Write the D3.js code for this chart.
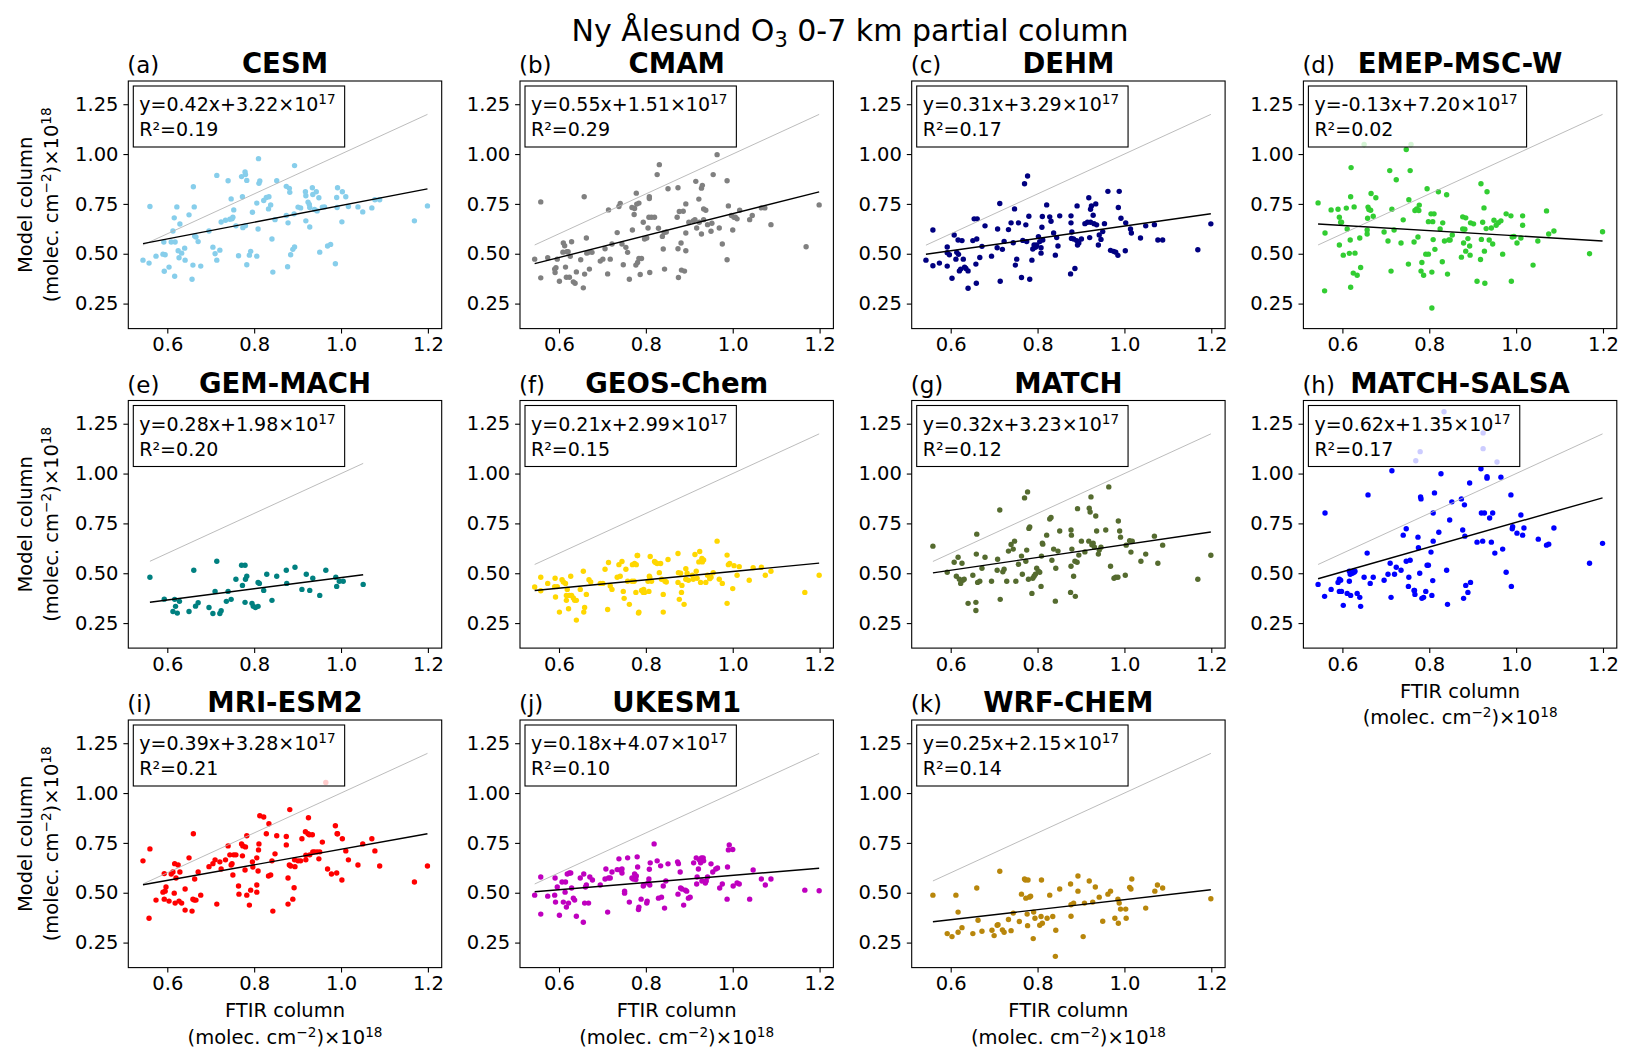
<!DOCTYPE html>
<html>
<head>
<meta charset="utf-8">
<script src="https://cdn.jsdelivr.net/npm/d3@7"></script>
<style>
  body { margin: 0; background: #fff; }
  svg { font-family: "DejaVu Sans", sans-serif; }
</style>
</head>
<body>
<div id="chart"></div>
<script>
// model names, panel letters and fit statistics (intercept in units of 1e17)
var models = ["CESM", "CMAM", "DEHM", "EMEP-MSC-W", "GEM-MACH", "GEOS-Chem", "MATCH", "MATCH-SALSA", "MRI-ESM2", "UKESM1", "WRF-CHEM"];
var letters = ["a", "b", "c", "d", "e", "f", "g", "h", "i", "j", "k"];
var slopes = [0.42, 0.55, 0.31, -0.13, 0.28, 0.21, 0.32, 0.62, 0.39, 0.18, 0.25];
var intercepts = [3.22, 1.51, 3.29, 7.20, 1.98, 2.99, 3.23, 1.35, 3.28, 4.07, 2.15];
var rSquared = [0.19, 0.29, 0.17, 0.02, 0.20, 0.15, 0.12, 0.17, 0.21, 0.10, 0.14];
var xTicks = [0.6, 0.8, 1.0, 1.2];
var yTicks = [0.25, 0.50, 0.75, 1.00, 1.25];

// [FTIR column, model column] x 1e18 molec cm-2
var cesm = [[0.544,0.468],[0.558,0.453],[0.560,0.737],[0.574,0.488],[0.590,0.498],[0.593,0.412],[0.595,0.495],[0.592,0.559],[0.604,0.433],[0.609,0.559],[0.613,0.614],[0.616,0.680],[0.617,0.387],[0.618,0.559],[0.622,0.735],[0.625,0.515],[0.627,0.480],[0.629,0.649],[0.633,0.503],[0.640,0.528],[0.641,0.468],[0.650,0.695],[0.657,0.372],[0.659,0.443],[0.660,0.836],[0.662,0.735],[0.663,0.589],[0.666,0.584],[0.671,0.561],[0.677,0.438],[0.696,0.614],[0.705,0.533],[0.710,0.500],[0.714,0.468],[0.714,0.893],[0.721,0.518],[0.724,0.659],[0.734,0.668],[0.740,0.866],[0.744,0.673],[0.747,0.775],[0.749,0.675],[0.751,0.683],[0.753,0.720],[0.758,0.640],[0.764,0.490],[0.771,0.887],[0.773,0.786],[0.774,0.631],[0.779,0.910],[0.780,0.897],[0.780,0.641],[0.783,0.445],[0.783,0.868],[0.789,0.493],[0.792,0.512],[0.796,0.708],[0.806,0.488],[0.806,0.754],[0.809,0.624],[0.810,0.977],[0.811,0.853],[0.813,0.865],[0.822,0.767],[0.828,0.782],[0.833,0.725],[0.834,0.786],[0.838,0.745],[0.841,0.574],[0.843,0.408],[0.848,0.671],[0.852,0.866],[0.874,0.692],[0.874,0.838],[0.877,0.435],[0.878,0.655],[0.881,0.828],[0.882,0.808],[0.884,0.495],[0.889,0.522],[0.892,0.700],[0.893,0.534],[0.893,0.942],[0.901,0.734],[0.907,0.730],[0.918,0.811],[0.919,0.665],[0.919,0.791],[0.924,0.759],[0.927,0.747],[0.928,0.732],[0.928,0.634],[0.934,0.831],[0.935,0.797],[0.939,0.722],[0.943,0.811],[0.945,0.715],[0.949,0.781],[0.951,0.508],[0.957,0.734],[0.962,0.735],[0.969,0.539],[0.976,0.547],[0.987,0.450],[0.990,0.782],[0.991,0.732],[0.992,0.831],[1.002,0.660],[1.003,0.811],[1.011,0.786],[1.017,0.737],[1.039,0.735],[1.050,0.710],[1.071,0.730],[1.078,0.771],[1.089,0.771],[1.169,0.665],[1.199,0.740]];

var cmam = [[0.544,0.473],[0.558,0.760],[0.558,0.379],[0.574,0.480],[0.590,0.423],[0.591,0.406],[0.593,0.430],[0.596,0.473],[0.601,0.362],[0.609,0.508],[0.610,0.554],[0.613,0.540],[0.615,0.433],[0.617,0.382],[0.618,0.510],[0.621,0.510],[0.624,0.382],[0.626,0.487],[0.629,0.560],[0.633,0.359],[0.637,0.352],[0.640,0.409],[0.650,0.470],[0.656,0.329],[0.658,0.786],[0.659,0.398],[0.663,0.579],[0.664,0.503],[0.668,0.507],[0.670,0.423],[0.676,0.507],[0.695,0.463],[0.701,0.473],[0.706,0.525],[0.712,0.399],[0.714,0.720],[0.718,0.473],[0.722,0.549],[0.734,0.606],[0.738,0.737],[0.741,0.752],[0.745,0.549],[0.748,0.445],[0.754,0.532],[0.758,0.507],[0.762,0.372],[0.768,0.732],[0.769,0.619],[0.773,0.697],[0.774,0.727],[0.777,0.443],[0.778,0.804],[0.779,0.749],[0.781,0.456],[0.784,0.754],[0.784,0.476],[0.787,0.396],[0.790,0.476],[0.794,0.658],[0.797,0.574],[0.802,0.579],[0.805,0.629],[0.807,0.683],[0.808,0.777],[0.808,0.786],[0.809,0.406],[0.813,0.683],[0.820,0.683],[0.826,0.897],[0.829,0.628],[0.831,0.947],[0.838,0.587],[0.840,0.524],[0.842,0.606],[0.843,0.423],[0.847,0.609],[0.851,0.826],[0.872,0.683],[0.874,0.831],[0.874,0.525],[0.875,0.381],[0.877,0.712],[0.881,0.554],[0.882,0.418],[0.886,0.713],[0.889,0.413],[0.892,0.515],[0.892,0.750],[0.892,0.604],[0.899,0.658],[0.909,0.665],[0.913,0.671],[0.915,0.863],[0.917,0.629],[0.922,0.774],[0.923,0.658],[0.928,0.599],[0.928,0.829],[0.930,0.843],[0.933,0.671],[0.933,0.725],[0.938,0.718],[0.942,0.646],[0.950,0.613],[0.952,0.653],[0.955,0.897],[0.964,0.997],[0.969,0.629],[0.976,0.549],[0.987,0.866],[0.987,0.470],[0.990,0.740],[0.997,0.692],[1.000,0.619],[1.003,0.683],[1.006,0.683],[1.010,0.675],[1.016,0.718],[1.039,0.671],[1.045,0.692],[1.066,0.730],[1.074,0.730],[1.088,0.646],[1.169,0.535],[1.199,0.745]];

var dehm = [[0.543,0.468],[0.559,0.619],[0.559,0.440],[0.574,0.453],[0.592,0.534],[0.592,0.505],[0.592,0.438],[0.597,0.495],[0.603,0.377],[0.608,0.594],[0.612,0.473],[0.614,0.507],[0.617,0.569],[0.618,0.497],[0.620,0.414],[0.623,0.423],[0.626,0.566],[0.629,0.473],[0.632,0.433],[0.635,0.426],[0.640,0.414],[0.640,0.327],[0.651,0.566],[0.654,0.675],[0.658,0.448],[0.659,0.352],[0.660,0.574],[0.661,0.675],[0.667,0.481],[0.672,0.537],[0.679,0.640],[0.694,0.488],[0.707,0.530],[0.708,0.624],[0.713,0.752],[0.714,0.362],[0.719,0.522],[0.723,0.562],[0.733,0.621],[0.739,0.655],[0.744,0.555],[0.747,0.725],[0.749,0.443],[0.752,0.473],[0.756,0.655],[0.763,0.381],[0.766,0.567],[0.770,0.851],[0.773,0.645],[0.775,0.561],[0.777,0.890],[0.780,0.688],[0.782,0.372],[0.787,0.468],[0.789,0.524],[0.792,0.544],[0.795,0.532],[0.797,0.537],[0.798,0.544],[0.802,0.586],[0.805,0.561],[0.808,0.530],[0.808,0.503],[0.810,0.633],[0.811,0.687],[0.812,0.569],[0.821,0.745],[0.828,0.685],[0.831,0.663],[0.837,0.604],[0.841,0.493],[0.844,0.581],[0.847,0.539],[0.851,0.690],[0.876,0.399],[0.877,0.690],[0.877,0.655],[0.878,0.577],[0.879,0.609],[0.883,0.574],[0.886,0.426],[0.890,0.566],[0.891,0.740],[0.892,0.544],[0.895,0.554],[0.901,0.574],[0.909,0.651],[0.915,0.658],[0.918,0.781],[0.920,0.581],[0.922,0.723],[0.922,0.658],[0.924,0.740],[0.928,0.693],[0.930,0.651],[0.934,0.750],[0.936,0.645],[0.940,0.544],[0.942,0.594],[0.946,0.572],[0.950,0.611],[0.954,0.651],[0.962,0.813],[0.968,0.517],[0.975,0.512],[0.980,0.508],[0.985,0.492],[0.986,0.732],[0.988,0.813],[0.992,0.678],[1.002,0.515],[1.003,0.655],[1.014,0.624],[1.016,0.604],[1.037,0.579],[1.049,0.640],[1.069,0.646],[1.077,0.569],[1.088,0.569],[1.169,0.520],[1.199,0.650]];

var emep = [[0.544,0.755],[0.559,0.314],[0.560,0.604],[0.574,0.720],[0.590,0.723],[0.593,0.683],[0.593,0.544],[0.596,0.658],[0.598,0.658],[0.602,0.493],[0.609,0.729],[0.611,0.624],[0.616,0.502],[0.618,0.569],[0.619,0.332],[0.619,0.786],[0.620,0.932],[0.625,0.403],[0.627,0.735],[0.629,0.503],[0.634,0.392],[0.640,0.579],[0.642,0.431],[0.650,1.048],[0.657,0.599],[0.657,0.619],[0.658,0.678],[0.659,0.734],[0.661,0.722],[0.665,0.718],[0.666,0.802],[0.671,0.688],[0.677,0.781],[0.696,0.609],[0.705,0.564],[0.709,0.917],[0.712,0.413],[0.714,0.723],[0.719,0.619],[0.724,0.871],[0.735,0.554],[0.740,0.670],[0.747,1.023],[0.752,0.448],[0.753,0.771],[0.756,0.917],[0.758,1.048],[0.765,0.559],[0.767,0.717],[0.771,0.725],[0.774,0.584],[0.776,0.717],[0.777,0.744],[0.781,0.413],[0.783,0.456],[0.787,0.392],[0.792,0.498],[0.795,0.826],[0.798,0.661],[0.798,0.498],[0.804,0.700],[0.806,0.408],[0.806,0.228],[0.808,0.661],[0.809,0.571],[0.811,0.700],[0.813,0.522],[0.821,0.811],[0.825,0.624],[0.830,0.460],[0.831,0.655],[0.835,0.564],[0.840,0.796],[0.842,0.398],[0.845,0.569],[0.848,0.569],[0.853,0.594],[0.874,0.483],[0.877,0.624],[0.877,0.685],[0.879,0.554],[0.882,0.623],[0.884,0.680],[0.884,0.513],[0.889,0.576],[0.893,0.539],[0.894,0.493],[0.895,0.655],[0.902,0.650],[0.910,0.362],[0.918,0.471],[0.919,0.851],[0.920,0.572],[0.923,0.658],[0.926,0.730],[0.927,0.513],[0.928,0.352],[0.931,0.626],[0.933,0.811],[0.938,0.569],[0.943,0.629],[0.946,0.549],[0.949,0.668],[0.954,0.643],[0.959,0.656],[0.965,0.665],[0.969,0.498],[0.977,0.700],[0.988,0.690],[0.989,0.362],[0.991,0.584],[0.995,0.587],[1.002,0.554],[1.011,0.579],[1.015,0.643],[1.015,0.690],[1.039,0.443],[1.050,0.564],[1.070,0.715],[1.075,0.599],[1.087,0.614],[1.169,0.500],[1.199,0.610]];

var gemMach = [[0.560,0.480],[0.593,0.370],[0.613,0.308],[0.617,0.369],[0.619,0.334],[0.623,0.300],[0.628,0.359],[0.650,0.308],[0.661,0.515],[0.665,0.335],[0.671,0.352],[0.696,0.328],[0.705,0.298],[0.710,0.409],[0.714,0.560],[0.721,0.298],[0.724,0.312],[0.736,0.359],[0.740,0.409],[0.747,0.369],[0.758,0.470],[0.771,0.540],[0.773,0.439],[0.779,0.540],[0.779,0.354],[0.780,0.470],[0.783,0.485],[0.795,0.349],[0.798,0.334],[0.803,0.328],[0.809,0.334],[0.809,0.454],[0.812,0.449],[0.822,0.414],[0.829,0.495],[0.841,0.364],[0.852,0.485],[0.874,0.515],[0.875,0.449],[0.894,0.530],[0.910,0.419],[0.920,0.495],[0.928,0.414],[0.935,0.475],[0.951,0.389],[0.965,0.515],[0.988,0.480],[0.990,0.434],[0.996,0.460],[1.005,0.460],[1.051,0.444]];

var geosChem = [[0.544,0.431],[0.558,0.480],[0.558,0.412],[0.574,0.449],[0.590,0.433],[0.591,0.475],[0.592,0.381],[0.596,0.433],[0.601,0.305],[0.607,0.468],[0.610,0.456],[0.615,0.449],[0.617,0.389],[0.617,0.364],[0.619,0.419],[0.622,0.322],[0.624,0.389],[0.627,0.485],[0.629,0.389],[0.633,0.376],[0.636,0.364],[0.640,0.364],[0.640,0.265],[0.649,0.419],[0.656,0.510],[0.657,0.305],[0.659,0.328],[0.663,0.394],[0.669,0.468],[0.673,0.456],[0.695,0.449],[0.701,0.449],[0.706,0.520],[0.712,0.318],[0.714,0.554],[0.718,0.436],[0.722,0.419],[0.734,0.480],[0.738,0.543],[0.741,0.485],[0.745,0.559],[0.748,0.409],[0.750,0.374],[0.754,0.520],[0.758,0.460],[0.762,0.344],[0.768,0.460],[0.769,0.543],[0.773,0.460],[0.774,0.549],[0.777,0.404],[0.778,0.543],[0.780,0.589],[0.781,0.589],[0.783,0.300],[0.784,0.305],[0.790,0.414],[0.794,0.404],[0.795,0.419],[0.797,0.404],[0.805,0.460],[0.807,0.409],[0.808,0.485],[0.809,0.480],[0.810,0.584],[0.813,0.460],[0.820,0.559],[0.822,0.554],[0.826,0.549],[0.831,0.503],[0.834,0.549],[0.836,0.470],[0.840,0.394],[0.840,0.305],[0.844,0.460],[0.847,0.456],[0.851,0.569],[0.874,0.599],[0.874,0.454],[0.875,0.503],[0.877,0.369],[0.880,0.500],[0.882,0.404],[0.883,0.439],[0.888,0.344],[0.892,0.523],[0.892,0.470],[0.895,0.500],[0.898,0.465],[0.907,0.490],[0.909,0.470],[0.913,0.594],[0.916,0.510],[0.918,0.475],[0.922,0.557],[0.924,0.609],[0.926,0.454],[0.929,0.574],[0.930,0.557],[0.933,0.567],[0.938,0.454],[0.942,0.490],[0.947,0.473],[0.950,0.480],[0.955,0.503],[0.964,0.661],[0.969,0.470],[0.976,0.449],[0.987,0.591],[0.987,0.349],[0.990,0.543],[0.993,0.549],[1.000,0.423],[1.003,0.538],[1.010,0.490],[1.015,0.533],[1.038,0.465],[1.047,0.528],[1.066,0.530],[1.075,0.490],[1.088,0.510],[1.166,0.404],[1.199,0.490]];

var match = [[0.559,0.636],[0.592,0.505],[0.608,0.555],[0.613,0.485],[0.617,0.580],[0.620,0.470],[0.623,0.449],[0.626,0.550],[0.628,0.465],[0.631,0.470],[0.640,0.349],[0.651,0.490],[0.658,0.354],[0.658,0.313],[0.659,0.596],[0.660,0.696],[0.662,0.454],[0.667,0.460],[0.672,0.525],[0.679,0.580],[0.694,0.460],[0.707,0.515],[0.708,0.570],[0.713,0.817],[0.714,0.369],[0.720,0.507],[0.723,0.520],[0.729,0.460],[0.733,0.611],[0.739,0.644],[0.744,0.621],[0.747,0.661],[0.750,0.460],[0.756,0.545],[0.763,0.586],[0.765,0.495],[0.770,0.878],[0.773,0.560],[0.775,0.616],[0.777,0.908],[0.779,0.470],[0.780,0.725],[0.782,0.732],[0.787,0.399],[0.789,0.475],[0.792,0.485],[0.795,0.495],[0.798,0.525],[0.802,0.510],[0.805,0.505],[0.808,0.434],[0.809,0.586],[0.811,0.651],[0.812,0.646],[0.821,0.691],[0.828,0.772],[0.831,0.780],[0.833,0.565],[0.837,0.621],[0.841,0.360],[0.842,0.525],[0.847,0.611],[0.851,0.712],[0.876,0.404],[0.877,0.535],[0.877,0.717],[0.878,0.691],[0.879,0.621],[0.883,0.485],[0.886,0.560],[0.887,0.384],[0.891,0.555],[0.892,0.824],[0.895,0.591],[0.901,0.661],[0.909,0.607],[0.918,0.661],[0.919,0.826],[0.921,0.807],[0.923,0.883],[0.925,0.643],[0.928,0.651],[0.931,0.631],[0.934,0.787],[0.936,0.712],[0.940,0.596],[0.942,0.616],[0.946,0.631],[0.957,0.717],[0.964,0.933],[0.968,0.535],[0.976,0.475],[0.980,0.480],[0.985,0.480],[0.986,0.762],[0.989,0.712],[0.991,0.681],[1.002,0.490],[1.004,0.641],[1.012,0.663],[1.015,0.606],[1.018,0.661],[1.038,0.560],[1.049,0.596],[1.069,0.686],[1.077,0.550],[1.088,0.641],[1.169,0.470],[1.199,0.590]];

var matchSalsa = [[0.544,0.444],[0.559,0.384],[0.560,0.802],[0.574,0.419],[0.590,0.454],[0.593,0.409],[0.593,0.470],[0.596,0.465],[0.598,0.409],[0.602,0.339],[0.611,0.399],[0.616,0.460],[0.616,0.510],[0.618,0.495],[0.619,0.389],[0.620,0.505],[0.623,0.500],[0.625,0.510],[0.627,0.505],[0.629,0.510],[0.634,0.399],[0.640,0.379],[0.642,0.334],[0.650,0.480],[0.657,0.601],[0.659,0.893],[0.664,0.449],[0.671,0.480],[0.696,0.465],[0.705,0.495],[0.710,0.550],[0.712,0.379],[0.714,1.014],[0.720,0.495],[0.724,0.530],[0.735,0.515],[0.740,0.691],[0.747,0.560],[0.747,0.723],[0.752,0.434],[0.753,0.480],[0.756,0.565],[0.765,0.414],[0.766,0.414],[0.767,0.394],[0.769,1.064],[0.774,0.681],[0.775,0.628],[0.778,0.500],[0.779,1.110],[0.780,0.883],[0.781,0.873],[0.783,0.374],[0.787,0.379],[0.792,0.409],[0.795,0.540],[0.798,0.540],[0.804,0.606],[0.806,0.389],[0.808,0.463],[0.809,0.661],[0.809,0.802],[0.812,0.903],[0.822,0.706],[0.827,0.999],[0.834,1.310],[0.840,0.515],[0.842,0.344],[0.847,0.767],[0.852,0.858],[0.874,0.873],[0.877,0.717],[0.879,0.374],[0.881,0.843],[0.882,0.686],[0.884,0.439],[0.889,0.404],[0.893,0.953],[0.895,0.454],[0.910,0.656],[0.919,1.024],[0.920,0.802],[0.923,0.661],[0.924,1.204],[0.924,1.125],[0.927,0.802],[0.933,0.984],[0.933,0.977],[0.939,0.777],[0.943,0.656],[0.946,0.802],[0.951,0.601],[0.956,1.058],[0.965,0.982],[0.969,0.621],[0.977,0.505],[0.988,0.893],[0.989,0.434],[0.991,0.723],[0.992,0.733],[1.002,0.701],[1.011,0.792],[1.015,0.691],[1.018,0.727],[1.051,0.671],[1.070,0.641],[1.075,0.646],[1.087,0.727],[1.169,0.550],[1.199,0.650]];

var mriEsm2 = [[0.544,0.660],[0.558,0.372],[0.560,0.720],[0.574,0.463],[0.590,0.503],[0.593,0.596],[0.593,0.468],[0.595,0.508],[0.597,0.529],[0.604,0.458],[0.609,0.594],[0.613,0.604],[0.616,0.498],[0.617,0.646],[0.618,0.448],[0.620,0.574],[0.625,0.639],[0.627,0.458],[0.629,0.604],[0.633,0.448],[0.641,0.519],[0.641,0.413],[0.650,0.675],[0.657,0.408],[0.659,0.468],[0.660,0.796],[0.662,0.463],[0.663,0.569],[0.666,0.463],[0.671,0.604],[0.677,0.488],[0.696,0.631],[0.705,0.646],[0.710,0.665],[0.714,0.443],[0.721,0.655],[0.724,0.619],[0.734,0.665],[0.740,0.735],[0.744,0.690],[0.747,0.639],[0.749,0.646],[0.751,0.589],[0.753,0.690],[0.758,0.690],[0.764,0.534],[0.765,0.493],[0.771,0.745],[0.773,0.685],[0.774,0.735],[0.779,0.614],[0.780,0.730],[0.783,0.488],[0.783,0.786],[0.789,0.438],[0.792,0.513],[0.796,0.655],[0.797,0.629],[0.806,0.539],[0.806,0.503],[0.806,0.675],[0.809,0.609],[0.810,0.715],[0.811,0.745],[0.813,0.886],[0.822,0.880],[0.828,0.796],[0.833,0.584],[0.834,0.846],[0.838,0.589],[0.841,0.660],[0.843,0.408],[0.848,0.695],[0.852,0.786],[0.874,0.782],[0.874,0.740],[0.878,0.574],[0.878,0.443],[0.881,0.639],[0.882,0.917],[0.884,0.634],[0.889,0.468],[0.892,0.525],[0.893,0.665],[0.894,0.631],[0.901,0.660],[0.907,0.660],[0.910,0.771],[0.918,0.806],[0.919,0.665],[0.919,0.688],[0.924,0.796],[0.925,0.876],[0.927,0.791],[0.928,0.690],[0.934,0.791],[0.935,0.705],[0.939,0.705],[0.945,0.705],[0.949,0.670],[0.951,0.705],[0.957,0.754],[0.965,1.053],[0.969,0.619],[0.978,0.594],[0.987,0.836],[0.990,0.599],[0.991,0.796],[0.992,0.796],[1.002,0.564],[1.003,0.771],[1.011,0.710],[1.017,0.665],[1.039,0.639],[1.050,0.745],[1.071,0.771],[1.078,0.710],[1.089,0.634],[1.169,0.554],[1.199,0.634]];

var ukesm1 = [[0.544,0.488],[0.558,0.579],[0.558,0.393],[0.574,0.483],[0.590,0.488],[0.591,0.574],[0.592,0.453],[0.596,0.529],[0.601,0.387],[0.607,0.554],[0.610,0.453],[0.614,0.503],[0.615,0.554],[0.617,0.428],[0.619,0.594],[0.622,0.448],[0.624,0.599],[0.627,0.599],[0.629,0.524],[0.633,0.473],[0.636,0.463],[0.640,0.382],[0.649,0.574],[0.656,0.352],[0.657,0.594],[0.659,0.448],[0.661,0.529],[0.663,0.539],[0.668,0.448],[0.671,0.579],[0.677,0.564],[0.695,0.539],[0.706,0.569],[0.708,0.619],[0.712,0.403],[0.714,0.574],[0.718,0.574],[0.722,0.604],[0.734,0.616],[0.738,0.670],[0.741,0.614],[0.745,0.619],[0.745,0.599],[0.751,0.508],[0.751,0.498],[0.758,0.675],[0.762,0.453],[0.768,0.574],[0.771,0.569],[0.774,0.594],[0.777,0.566],[0.778,0.584],[0.780,0.680],[0.781,0.629],[0.783,0.416],[0.784,0.428],[0.789,0.468],[0.794,0.534],[0.795,0.539],[0.802,0.448],[0.803,0.458],[0.805,0.549],[0.807,0.569],[0.808,0.618],[0.809,0.539],[0.810,0.650],[0.819,0.745],[0.826,0.660],[0.829,0.473],[0.834,0.635],[0.836,0.478],[0.840,0.534],[0.843,0.423],[0.846,0.559],[0.851,0.645],[0.873,0.655],[0.874,0.493],[0.875,0.646],[0.879,0.604],[0.880,0.524],[0.883,0.519],[0.887,0.438],[0.891,0.513],[0.894,0.508],[0.898,0.473],[0.902,0.478],[0.910,0.650],[0.916,0.675],[0.917,0.544],[0.918,0.579],[0.921,0.619],[0.923,0.665],[0.926,0.650],[0.928,0.675],[0.929,0.559],[0.932,0.675],[0.933,0.660],[0.937,0.549],[0.939,0.559],[0.942,0.579],[0.950,0.645],[0.954,0.604],[0.961,0.619],[0.965,0.624],[0.970,0.524],[0.976,0.544],[0.987,0.468],[0.988,0.629],[0.990,0.715],[0.992,0.740],[1.000,0.717],[1.001,0.534],[1.010,0.549],[1.015,0.544],[1.039,0.468],[1.047,0.614],[1.066,0.569],[1.075,0.539],[1.088,0.569],[1.166,0.513],[1.199,0.510]];

var wrfChem = [[0.559,0.488],[0.592,0.295],[0.603,0.280],[0.612,0.488],[0.617,0.403],[0.617,0.302],[0.626,0.325],[0.651,0.295],[0.660,0.524],[0.663,0.362],[0.672,0.307],[0.695,0.312],[0.700,0.285],[0.707,0.337],[0.709,0.340],[0.713,0.608],[0.719,0.314],[0.723,0.302],[0.733,0.366],[0.739,0.310],[0.744,0.398],[0.758,0.356],[0.763,0.493],[0.770,0.569],[0.772,0.564],[0.773,0.473],[0.776,0.393],[0.777,0.335],[0.778,0.564],[0.781,0.478],[0.784,0.483],[0.790,0.270],[0.791,0.403],[0.794,0.372],[0.805,0.337],[0.808,0.381],[0.809,0.564],[0.811,0.347],[0.822,0.372],[0.828,0.488],[0.835,0.381],[0.841,0.181],[0.842,0.312],[0.851,0.519],[0.876,0.544],[0.877,0.382],[0.877,0.440],[0.883,0.448],[0.893,0.508],[0.893,0.584],[0.905,0.280],[0.908,0.448],[0.919,0.559],[0.927,0.453],[0.933,0.529],[0.942,0.478],[0.950,0.357],[0.962,0.493],[0.968,0.508],[0.978,0.372],[0.985,0.468],[0.986,0.347],[0.988,0.448],[0.991,0.418],[1.003,0.418],[1.004,0.372],[1.012,0.527],[1.015,0.519],[1.017,0.569],[1.049,0.423],[1.070,0.508],[1.076,0.539],[1.088,0.524],[1.199,0.470]];

var series = [cesm, cmam, dehm, emep, gemMach, geosChem, match, matchSalsa, mriEsm2, ukesm1, wrfChem];
var colors = ["#87ceeb", "#808080", "#000080", "#32cd32", "#008080", "#ffd700", "#556b2f", "#0000ff", "#ff0000", "#bf00bf", "#b8860b"];

// layout
var W = 313.4, H = 247.6;
var left0 = 128.3, top0 = 81, colStep = 391.7, rowStep = 319.5;
var tickFont = 19.5, supFont = 13.6;

var svg = d3.select("#chart").append("svg")
    .attr("width", 1632)
    .attr("height", 1062);

// shared limits with 5% margins, like the original
var allPts = d3.merge(series);
var xe = d3.extent(allPts, function(d) { return d[0]; });
var ye = d3.extent(allPts, function(d) { return d[1]; });
var xPad = 0.05 * (xe[1] - xe[0]), yPad = 0.05 * (ye[1] - ye[0]);
var x = d3.scaleLinear().domain([xe[0] - xPad, xe[1] + xPad]).range([0, W]);
var y = d3.scaleLinear().domain([ye[0] - yPad, ye[1] + yPad]).range([H, 0]);

// writes text parts, raising the ones flagged "sup"
function richText(sel, parts, shift) {
  var raised = false;
  parts.forEach(function(p) {
    var t = sel.append("tspan").text(p[0]);
    if (p[1] === "sup" && !raised) { t.attr("font-size", supFont).attr("dy", -shift); raised = true; }
    else if (p[1] === "sup") { t.attr("font-size", supFont); }
    else if (p[1] === "sub") { t.attr("font-size", 21).attr("dy", 6); raised = "sub"; }
    else if (raised === "sub") { t.attr("dy", -6); raised = false; }
    else if (raised) { t.attr("dy", shift); raised = false; }
  });
}

// figure title
richText(svg.append("text")
    .attr("x", 850).attr("y", 41)
    .attr("text-anchor", "middle")
    .attr("font-size", 30),
  [["Ny \u00c5lesund O"], ["3", "sub"], [" 0-7 km partial column"]], 0);

var line = d3.line()
    .x(function(d) { return x(d[0]); })
    .y(function(d) { return y(d[1]); });

series.forEach(function(pts, i) {
  var c = i % 4, r = Math.floor(i / 4);
  var L = left0 + c * colStep, T = top0 + r * rowStep;
  var g = svg.append("g").attr("transform", "translate(" + L + "," + T + ")");

  // ticks
  var xa = g.append("g")
      .attr("transform", "translate(0," + H + ")")
      .call(d3.axisBottom(x).tickValues(xTicks).tickFormat(d3.format(".1f"))
        .tickSize(4.9).tickPadding(4).tickSizeOuter(0));
  var ya = g.append("g")
      .call(d3.axisLeft(y).tickValues(yTicks).tickFormat(d3.format(".2f"))
        .tickSize(4.9).tickPadding(4.9).tickSizeOuter(0));
  [xa, ya].forEach(function(a) {
    a.select(".domain").remove();
    a.attr("font-family", "DejaVu Sans, sans-serif").attr("font-size", tickFont);
    a.selectAll(".tick line").attr("stroke", "#000").attr("stroke-width", 1.1);
    a.selectAll(".tick text").attr("fill", "#000");
  });

  // points
  g.append("g").selectAll("circle")
      .data(pts)
      .enter()
      .append("circle")
      .attr("cx", function(d) { return x(d[0]); })
      .attr("cy", function(d) { return y(d[1]); })
      .attr("r", 2.7)
      .attr("fill", colors[i]);

  // 1:1 line and regression over the panel's FTIR range
  var pe = d3.extent(pts, function(d) { return d[0]; });
  g.append("path")
      .attr("d", line([[pe[0], pe[0]], [pe[1], pe[1]]]))
      .attr("stroke", "#b4b4b4")
      .attr("stroke-width", 0.9)
      .attr("fill", "none");
  var fit = function(v) { return slopes[i] * v + intercepts[i] / 10; };
  g.append("path")
      .attr("d", line([[pe[0], fit(pe[0])], [pe[1], fit(pe[1])]]))
      .attr("stroke", "#000")
      .attr("stroke-width", 1.4)
      .attr("fill", "none");

  // frame
  g.append("rect")
      .attr("width", W).attr("height", H)
      .attr("fill", "none")
      .attr("stroke", "#000")
      .attr("stroke-width", 1.1);

  // fit statistics box
  var box = g.append("rect")
      .attr("x", 5).attr("y", 5)
      .attr("height", 61)
      .attr("fill", "#fff").attr("fill-opacity", 0.8)
      .attr("stroke", "#000").attr("stroke-width", 1.1);
  var tg = g.append("g").attr("font-size", 19);
  richText(tg.append("text").attr("x", 11).attr("y", 30),
    [["y=" + slopes[i].toFixed(2) + "x+" + intercepts[i].toFixed(2) + "\u00d710"], ["17", "sup"]], 7);
  tg.append("text").attr("x", 11).attr("y", 55)
      .text("R\u00b2=" + rSquared[i].toFixed(2));
  var bb = tg.node().getBBox();
  box.attr("width", bb.x + bb.width + 9 - 5);

  // panel titles
  g.append("text")
      .attr("x", -1).attr("y", -8)
      .attr("font-size", 23)
      .text("(" + letters[i] + ")");
  g.append("text")
      .attr("x", W / 2).attr("y", -8)
      .attr("text-anchor", "middle")
      .attr("font-size", 27.5)
      .attr("font-weight", "bold")
      .text(models[i]);

  // axis labels
  if (c === 0) {
    g.append("text")
        .attr("transform", "translate(-96.8," + (H / 2) + ") rotate(-90)")
        .attr("text-anchor", "middle")
        .attr("font-size", tickFont)
        .text("Model column");
    richText(g.append("text")
        .attr("transform", "translate(-70.8," + (H / 2) + ") rotate(-90)")
        .attr("text-anchor", "middle")
        .attr("font-size", tickFont),
      [["(molec. cm"], ["\u22122", "sup"], [")\u00d710"], ["18", "sup"]], 7);
  }
  if (r === 2 || i === 7) {
    g.append("text")
        .attr("x", W / 2).attr("y", H + 49.5)
        .attr("text-anchor", "middle")
        .attr("font-size", tickFont)
        .text("FTIR column");
    richText(g.append("text")
        .attr("x", W / 2).attr("y", H + 76)
        .attr("text-anchor", "middle")
        .attr("font-size", tickFont),
      [["(molec. cm"], ["\u22122", "sup"], [")\u00d710"], ["18", "sup"]], 7);
  }
});
</script>
</body>
</html>
